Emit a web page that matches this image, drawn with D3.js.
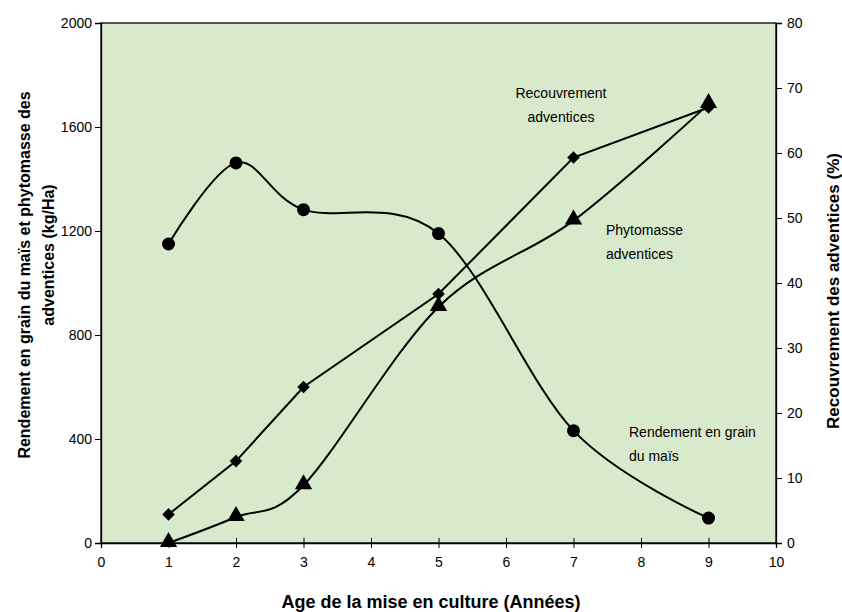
<!DOCTYPE html>
<html>
<head>
<meta charset="utf-8">
<script src="https://cdn.jsdelivr.net/npm/d3@7"></script>
<style>
  body { margin: 0; background: #fff; }
  text { font-family: "Liberation Sans", Arial, sans-serif; fill: #000; }
</style>
</head>
<body>
<svg id="chart"></svg>
<script>
// age of cultivation (years)
let years = [1, 2, 3, 5, 7, 9];
// maize grain yield (kg/Ha), left axis
let rendement = [1150, 1462, 1282, 1190, 432, 96];
// weed biomass (kg/Ha), left axis
let phytomasse = [0, 100, 222, 908, 1240, 1688];
// weed cover (%), right axis
let recouvrement = [4.4, 12.6, 24.0, 38.3, 59.3, 67.0];

let xTicks = [0, 1, 2, 3, 4, 5, 6, 7, 8, 9, 10];
let leftTicks = [0, 400, 800, 1200, 1600, 2000];
let rightTicks = [0, 10, 20, 30, 40, 50, 60, 70, 80];

function makeChart() {
  let w = 842;
  let h = 612;
  let marginL = 101;
  let marginR = 66;
  let marginT = 23;
  let marginB = 69;

  let svg = d3.select('#chart')
    .attr('width', w)
    .attr('height', h);

  let xScale = d3.scaleLinear().domain([0, 10]).range([marginL, w - marginR]);
  let yLeft = d3.scaleLinear().domain([0, 2000]).range([h - marginB, marginT]);
  let yRight = d3.scaleLinear().domain([0, 80]).range([h - marginB, marginT]);

  // plot area
  svg.append('rect')
    .attr('x', marginL)
    .attr('y', marginT)
    .attr('width', w - marginL - marginR)
    .attr('height', h - marginT - marginB)
    .attr('fill', '#d9e9cc')
    .attr('stroke', '#000')
    .attr('stroke-width', 1.3);

  // axes
  let fmt = d3.format('d');
  let xAxis = svg.append('g')
    .attr('transform', `translate(0,${h - marginB})`)
    .call(d3.axisBottom(xScale).tickValues(xTicks).tickFormat(fmt).tickSize(5).tickPadding(9));
  xAxis.selectAll('.tick line').attr('y1', -5);

  svg.append('g')
    .attr('transform', `translate(${marginL},0)`)
    .call(d3.axisLeft(yLeft).tickValues(leftTicks).tickFormat(fmt).tickSize(6).tickPadding(3));

  svg.append('g')
    .attr('transform', `translate(${w - marginR},0)`)
    .call(d3.axisRight(yRight).tickValues(rightTicks).tickFormat(fmt).tickSize(6).tickPadding(5));

  svg.selectAll('.domain').attr('stroke', '#000').attr('stroke-width', 1.3);
  svg.selectAll('.tick line').attr('stroke', '#000');
  svg.selectAll('.tick text')
    .style('font-size', '14px')
    .style('font-family', '"Liberation Sans", Arial, sans-serif')
    .attr('fill', '#222');

  let smooth = d3.curveCatmullRom.alpha(0);

  let line = (ys, y, curve) => d3.line()
    .x((d, i) => xScale(years[i]))
    .y(d => y(d))
    .curve(curve)(ys);

  svg.append('path').attr('d', line(rendement, yLeft, smooth))
    .attr('fill', 'none').attr('stroke', '#000').attr('stroke-width', 2);
  svg.append('path').attr('d', line(phytomasse, yLeft, smooth))
    .attr('fill', 'none').attr('stroke', '#000').attr('stroke-width', 2);
  svg.append('path').attr('d', line(recouvrement, yRight, d3.curveLinear))
    .attr('fill', 'none').attr('stroke', '#000').attr('stroke-width', 2);

  // markers
  svg.selectAll('.circ').data(rendement).enter()
    .append('circle')
    .attr('cx', (d, i) => xScale(years[i]))
    .attr('cy', d => yLeft(d))
    .attr('r', 6.5)
    .attr('fill', '#000');

  svg.selectAll('.tri').data(phytomasse).enter()
    .append('path')
    .attr('d', d3.symbol().type(d3.symbolTriangle).size(130))
    .attr('transform', (d, i) => `translate(${xScale(years[i])},${yLeft(d) - 1})`)
    .attr('fill', '#000');

  svg.selectAll('.diam').data(recouvrement).enter()
    .append('path')
    .attr('d', d3.symbol().type(d3.symbolSquare).size(80))
    .attr('transform', (d, i) => `translate(${xScale(years[i])},${yRight(d)}) rotate(45)`)
    .attr('fill', '#000');

  // annotations
  let note = (lines, x, y, anchor) => {
    let t = svg.append('text')
      .attr('x', x).attr('y', y)
      .attr('text-anchor', anchor)
      .style('font-size', '14px');
    lines.forEach((s, i) => {
      t.append('tspan').attr('x', x).attr('dy', i === 0 ? 0 : 24).text(s);
    });
  };
  note(['Recouvrement', 'adventices'], 561, 98, 'middle');
  note(['Phytomasse', 'adventices'], 606, 235, 'start');
  note(['Rendement en grain', 'du maïs'], 629, 437, 'start');

  // axis titles
  svg.append('text')
    .attr('x', 431).attr('y', 608)
    .attr('text-anchor', 'middle')
    .style('font-size', '18px').style('font-weight', 'bold')
    .text('Age de la mise en culture (Années)');

  svg.append('text')
    .attr('transform', 'translate(30,275) rotate(-90)')
    .attr('text-anchor', 'middle')
    .style('font-size', '16px').style('font-weight', 'bold')
    .text('Rendement en grain du maïs et phytomasse des');
  svg.append('text')
    .attr('transform', 'translate(54,255) rotate(-90)')
    .attr('text-anchor', 'middle')
    .style('font-size', '16px').style('font-weight', 'bold')
    .text('adventices (kg/Ha)');

  svg.append('text')
    .attr('transform', 'translate(839,291) rotate(-90)')
    .attr('text-anchor', 'middle')
    .style('font-size', '17px').style('font-weight', 'bold')
    .text('Recouvrement des adventices (%)');
}

window.onload = function () {
  makeChart();
};
</script>
</body>
</html>
